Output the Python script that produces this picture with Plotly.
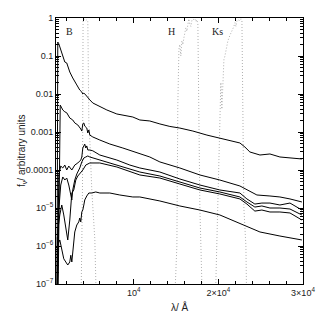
import math
import plotly.graph_objects as go

# ---- spectra (wavelength in Angstrom, flux in arbitrary units) ----
c1_wl = [912, 1010, 1130, 1250, 1480, 1600, 1840, 2070, 2430, 2780, 3020, 3260, 3610, 3850, 3970, 4090, 4320, 4560, 4800, 5150,
         5620, 5980, 6810, 7990, 9880, 10710, 11890, 13080, 14260, 15440, 16980, 18640, 20170, 22540, 23130, 23720, 24910, 26090,
         27270, 28810, 29870]
c1_f = [1e-8, 0.233, 0.21, 0.173, 0.127, 0.106, 0.0695, 0.0655, 0.0379, 0.0264, 0.0207, 0.0173, 0.0127, 0.0113, 0.0100, 0.0106,
        0.0094, 0.0079, 0.0070, 0.0058, 0.0051, 0.0048, 0.0038, 0.00298, 0.00248, 0.00207, 0.00195, 0.00163, 0.0014, 0.00127,
        0.00106, 8.3e-4, 6.95e-4, 5.14e-4, 4.03e-4, 2.98e-4, 2.48e-4, 2.64e-4, 2.2e-4, 2.07e-4, 1.95e-4]

c2_wl = [1010, 1300, 1480, 1600, 1840, 2070, 2430, 2780, 3020, 3380, 3730, 3850, 3970, 4090, 4200, 4440, 4560, 4680, 4800, 5150,
         5980, 7160, 8700, 10350, 11890, 13080, 15440, 17810, 20170, 22540, 23370, 24550, 26090, 27270, 28460, 29870]
c2_f = [1e-8, 0.0051, 0.0043, 0.0038, 0.0034, 0.0032, 0.00234, 0.00207, 0.00173, 0.00153, 0.0012, 0.00106, 0.00163, 0.00173,
        0.00143, 0.00127, 0.00094, 0.00113, 8.3e-4, 7.4e-4, 6.15e-4, 4.83e-4, 3.79e-4, 2.8e-4, 2.2e-4, 1.63e-4, 1.13e-4, 7.4e-5,
        5.45e-5, 3.8e-5, 2.98e-5, 2.2e-5, 2.07e-5, 1.95e-5, 1.73e-5, 1.44e-5]

c3_wl = [912, 1130, 1360, 1600, 1840, 2070, 2310, 2670, 3020, 3380, 3730, 3850, 3970, 4090, 4200, 4320, 4440, 4560, 4800, 5150,
         5980, 7990, 9530, 10710, 13080, 15440, 17810, 20170, 22540, 23370, 24310, 25140, 26090, 27270, 28460, 29870]
c3_f = [1e-8, 7.4e-5, 1.27e-4, 1.13e-4, 1.35e-4, 1.0e-4, 1.27e-4, 1.0e-4, 1.35e-4, 1.53e-4, 1.83e-4, 2.2e-4, 3.79e-4, 4.55e-4,
        4.8e-4, 3.79e-4, 4.3e-4, 3.36e-4, 3.36e-4, 3.2e-4, 2.48e-4, 1.83e-4, 1.35e-4, 1.13e-4, 8.85e-5, 5.8e-5, 4.03e-5, 2.98e-5,
        2.48e-5, 1.73e-5, 1.27e-5, 1.35e-5, 1.35e-5, 1.2e-5, 1.35e-5, 8.85e-6]

c4_wl = [912, 1130, 1360, 1600, 1840, 2070, 2310, 2550, 2670, 2780, 3020, 3260, 3610, 3850, 4090, 4320, 4560, 4800, 5980, 7990,
         10710, 13080, 15440, 17810, 20170, 22540, 23370, 24310, 25140, 26090, 27270, 28460, 29870]
c4_f = [1e-8, 8.85e-6, 4.03e-5, 6.55e-5, 5.45e-5, 6.15e-5, 4.03e-5, 2.2e-5, 1.63e-5, 2.98e-5, 5.45e-5, 7.85e-5, 1.13e-4, 1.63e-4,
        2.07e-4, 2.2e-4, 2.34e-4, 2.2e-4, 1.83e-4, 1.35e-4, 8.85e-5, 6.95e-5, 4.83e-5, 3.36e-5, 2.64e-5, 1.95e-5, 1.44e-5, 1.06e-5,
        1.13e-5, 1.0e-5, 1.0e-5, 9.4e-6, 6.55e-6]

c5_wl = [912, 1010, 1250, 1480, 1720, 1960, 2190, 2430, 2550, 2670, 2900, 3140, 3380, 3610, 3970, 4320, 4800, 5980, 7990, 10710,
         13080, 15440, 17810, 20170, 22540, 23370, 24310, 25140, 26090, 27270, 28460, 29870]
c5_f = [1e-8, 2.64e-6, 6.55e-6, 1.2e-5, 6.55e-6, 2.64e-6, 1.44e-6, 4.83e-6, 1.63e-5, 2.48e-5, 2.98e-5, 5.45e-5, 6.95e-5, 7.85e-5,
        1.0e-4, 1.35e-4, 1.53e-4, 1.53e-4, 1.2e-4, 7.4e-5, 6.15e-5, 4.28e-5, 2.98e-5, 2.34e-5, 1.73e-5, 1.27e-5, 8.3e-6, 8.85e-6,
        7.85e-6, 7.85e-6, 7.4e-6, 4.83e-6]

c6_wl = [912, 960, 1010, 1250, 1480, 1720, 1960, 2190, 2430, 2550, 2670, 2780, 3020, 3260, 3490, 3610, 3730, 3850, 3970, 4090,
         4200, 4440, 4680, 5030, 5500, 5980, 7160, 8340, 9880, 10710, 13080, 15440, 17810, 20170, 22900, 24910, 27270, 29870]
c6_f = [1e-8, 1.7e-6, 1.1e-6, 1.44e-6, 7.85e-7, 4.6e-7, 3.8e-7, 3.16e-7, 3.8e-7, 5.7e-7, 3.8e-7, 7.85e-7, 2.34e-6, 3.57e-6,
        4.3e-6, 5.45e-6, 4.3e-6, 7.85e-6, 8.85e-6, 1.2e-5, 1.63e-5, 2.07e-5, 2.48e-5, 2.48e-5, 2.64e-5, 2.48e-5, 2.48e-5, 2.2e-5,
        1.95e-5, 1.95e-5, 1.53e-5, 1.13e-5, 8.85e-6, 6.55e-6, 3.57e-6, 2.34e-6, 1.83e-6, 1.44e-6]

# ---- filter transmission curves ----
B_wl = [3730, 3850, 3930, 3970, 4000, 4100, 4200, 4320, 4440, 4560, 4620, 4680, 4800, 5030, 5390, 5620]
B_t = [1e-8, 2e-6, 3e-5, 0.01, 0.8, 0.95, 0.9, 0.85, 0.9, 0.8, 0.05, 2e-3, 6e-4, 3e-5, 1.5e-6, 1e-8]

H_wl = [14730, 15090, 15200, 15260, 15330, 15440, 15560, 15680, 15800, 15920, 16030, 16150, 16270, 16390, 16500, 16620,
        16740, 16860, 16980, 17100, 17220, 17340, 17450, 17570, 17690, 17810, 17930, 18160]
H_t = [1e-8, 1e-6, 0.005, 0.08, 0.15, 0.2, 0.1, 0.25, 0.2, 0.3, 0.4, 0.55, 0.45, 0.8, 0.95, 0.7, 0.6, 0.85, 0.95, 0.9,
       0.95, 0.8, 0.9, 0.7, 1e-3, 1e-5, 1e-6, 1e-8]

Ks_wl = [19580, 19820, 20060, 20170, 20290, 20410, 20530, 20650, 20770, 21000, 21120, 21360, 21590, 21830, 21950, 22070,
         22190, 22300, 22540, 22660, 22780, 22900, 23010, 23250, 23370]
Ks_t = [1e-8, 1e-6, 1e-4, 0.003, 0.02, 0.004, 0.03, 0.08, 0.1, 0.2, 0.25, 0.35, 0.45, 0.6, 0.75, 0.6, 0.85, 0.9, 0.85,
        0.95, 0.85, 1e-3, 1e-5, 1e-6, 1e-8]

filter_labels = ["B", "H", "Ks"]
filter_label_wl = [2430, 14500, 19940]
filter_label_f = [0.455, 0.455, 0.455]

y_tickvals = [1e-7, 1e-6, 1e-5, 1e-4, 1e-3, 1e-2, 1e-1, 1]
y_ticktext = ["10<sup>−7</sup>", "10<sup>−6</sup>", "10<sup>−5</sup>", "0.0001", "0.001", "0.01", "0.1", "1"]
x_tickvals = [10000, 20000, 30000]
x_ticktext = ["10<sup>4</sup>", "2×10<sup>4</sup>", "3×10<sup>4</sup>"]
x_title = "λ/ Å"
y_title = "f<sub>ν</sub>/ arbitrary units"

fig = go.Figure()

for wl, t in [(B_wl, B_t), (H_wl, H_t), (Ks_wl, Ks_t)]:
    fig.add_trace(go.Scatter(x=wl, y=t, mode="lines",
                             line=dict(color="#9a9a9a", width=0.8, dash="1px,2px"),
                             showlegend=False, hoverinfo="skip"))

for wl, f in [(c1_wl, c1_f), (c2_wl, c2_f), (c3_wl, c3_f), (c4_wl, c4_f), (c5_wl, c5_f), (c6_wl, c6_f)]:
    fig.add_trace(go.Scatter(x=wl, y=f, mode="lines",
                             line=dict(color="black", width=1),
                             showlegend=False))

for lab, xw, yf in zip(filter_labels, filter_label_wl, filter_label_f):
    fig.add_annotation(x=xw, y=math.log10(yf), xref="x", yref="y", text=lab,
                       showarrow=False, font=dict(family="Liberation Serif", size=10, color="#222"))

# axis titles as annotations (positioned like the reference)
fig.add_annotation(x=0.5, y=-0.087, xref="paper", yref="paper", text=x_title, showarrow=False,
                   xanchor="center", yanchor="middle", font=dict(family="Liberation Sans", size=10, color="#222"))
fig.add_annotation(x=-0.138, y=0.5, xref="paper", yref="paper", text=y_title, showarrow=False, textangle=-90,
                   xanchor="center", yanchor="middle", font=dict(family="Liberation Sans", size=10, color="#222"))

axis_common = dict(showline=True, linecolor="black", linewidth=1, mirror="ticks", automargin=False,
                   ticks="inside", ticklen=5, tickcolor="black", showgrid=False, zeroline=False,
                   tickfont=dict(family="Liberation Sans", size=9, color="#222"))

fig.update_xaxes(range=[800, 30000], tickmode="array", tickvals=x_tickvals, ticktext=x_ticktext,
                 minor=dict(ticks="inside", ticklen=3, dtick=2000, tick0=0, tickcolor="black", showgrid=False),
                 **axis_common)
fig.update_yaxes(type="log", range=[-7, 0], tickmode="array", tickvals=y_tickvals, ticktext=y_ticktext,
                 minor=dict(ticks="inside", ticklen=3, dtick="D1", tickcolor="black", showgrid=False),
                 **axis_common)

fig.update_layout(width=319, height=319, margin=dict(l=56, r=16, t=18, b=35, autoexpand=False),
                  plot_bgcolor="white", paper_bgcolor="white", showlegend=False)

fig.write_html("out.html", config={"displayModeBar": False},
               post_script="document.body.style.margin='0';document.body.style.padding='0';")
